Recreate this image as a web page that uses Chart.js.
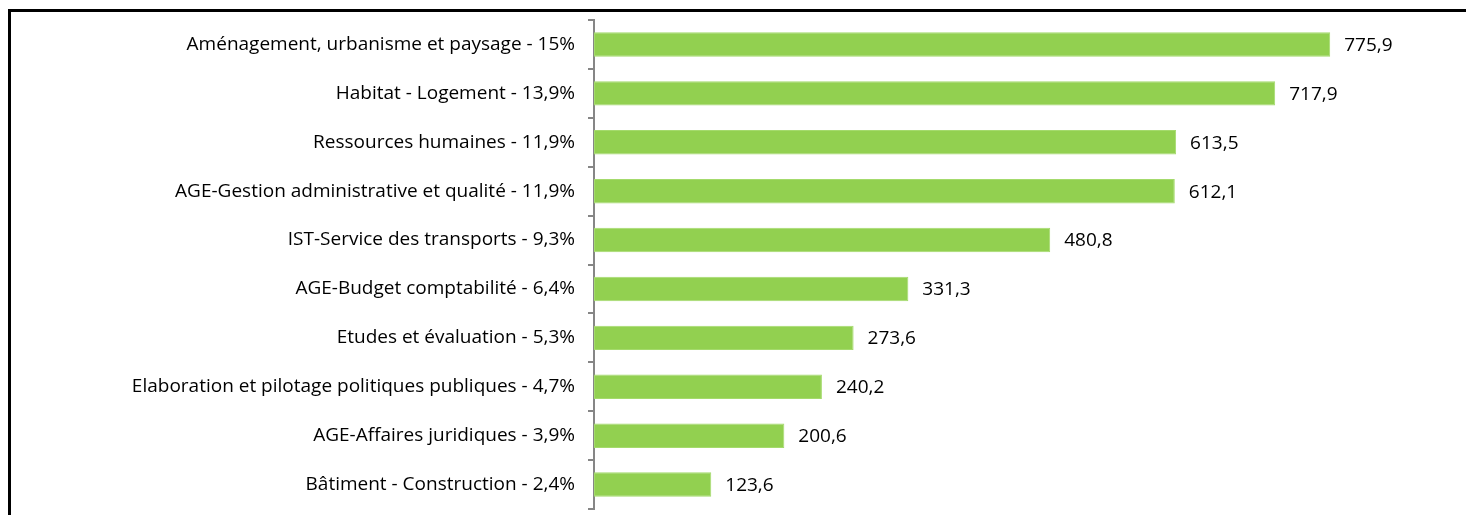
<!DOCTYPE html>
<html>
<head>
<meta charset="utf-8">
<script src="https://cdn.jsdelivr.net/npm/chart.js@4/dist/chart.umd.min.js"></script>
<style>
  html, body { margin: 0; padding: 0; background: #fff; }
  body { width: 1466px; height: 515px; overflow: hidden; position: relative; }
  #frame {
    position: absolute; left: 8px; top: 9px; width: 1458px; height: 506px;
    border-top: 3px solid #000; border-left: 3px solid #000;
  }
  #wrap { position: absolute; left: 11px; top: 12px; width: 1455px; height: 503px; }
</style>
</head>
<body>
<div id="frame"></div>
<div id="wrap"><canvas id="chart"></canvas></div>
<script>
'use strict';

var categories = [
  'Aménagement, urbanisme et paysage - 15%',
  'Habitat - Logement - 13,9%',
  'Ressources humaines - 11,9%',
  'AGE-Gestion administrative et qualité - 11,9%',
  'IST-Service des transports - 9,3%',
  'AGE-Budget comptabilité - 6,4%',
  'Etudes et évaluation - 5,3%',
  'Elaboration et pilotage politiques publiques - 4,7%',
  'AGE-Affaires juridiques - 3,9%',
  'Bâtiment - Construction - 2,4%'
];
var values = [775.9, 717.9, 613.5, 612.1, 480.8, 331.3, 273.6, 240.2, 200.6, 123.6];

var FONT = '"Open Sans", sans-serif';

/** 在柱末端绘制数值标签 */
var valueLabels = {
  id: 'valueLabels',
  afterDatasetsDraw: function (chart) {
    var ctx = chart.ctx;
    var meta = chart.getDatasetMeta(0);
    ctx.save();
    ctx.font = '19px ' + FONT;
    ctx.fillStyle = '#000';
    ctx.textAlign = 'left';
    ctx.textBaseline = 'middle';
    meta.data.forEach(function (bar, i) {
      ctx.fillText(values[i].toFixed(1).replace('.', ','), bar.x + 14, bar.y + 1);
    });
    ctx.restore();
  }
};

new Chart(document.getElementById('chart'), {
  type: 'bar',
  data: {
    labels: categories,
    datasets: [{
      data: values,
      backgroundColor: '#92d050',
      borderColor: '#a4da6c',
      borderWidth: 1,
      borderSkipped: false,
      categoryPercentage: 1,
      barPercentage: 0.5
    }]
  },
  options: {
    indexAxis: 'y',
    responsive: true,
    maintainAspectRatio: false,
    animation: false,
    layout: { padding: { top: 8, bottom: 6, left: 0, right: 0 } },
    plugins: { legend: { display: false }, tooltip: { enabled: false } },
    scales: {
      x: { display: false, min: 0, max: 919 },
      y: {
        afterFit: function (scale) {
          scale.width = 583;
          scale.paddingTop = 0;
          scale.paddingBottom = 0;
        },
        border: { display: true, color: '#868686', width: 2 },
        grid: { offset: true, drawOnChartArea: false, drawTicks: true, tickLength: 6, color: '#868686', lineWidth: 2 },
        ticks: { color: '#000', padding: 13, font: { family: FONT, size: 19 } }
      }
    }
  },
  plugins: [valueLabels]
});
</script>
</body>
</html>
